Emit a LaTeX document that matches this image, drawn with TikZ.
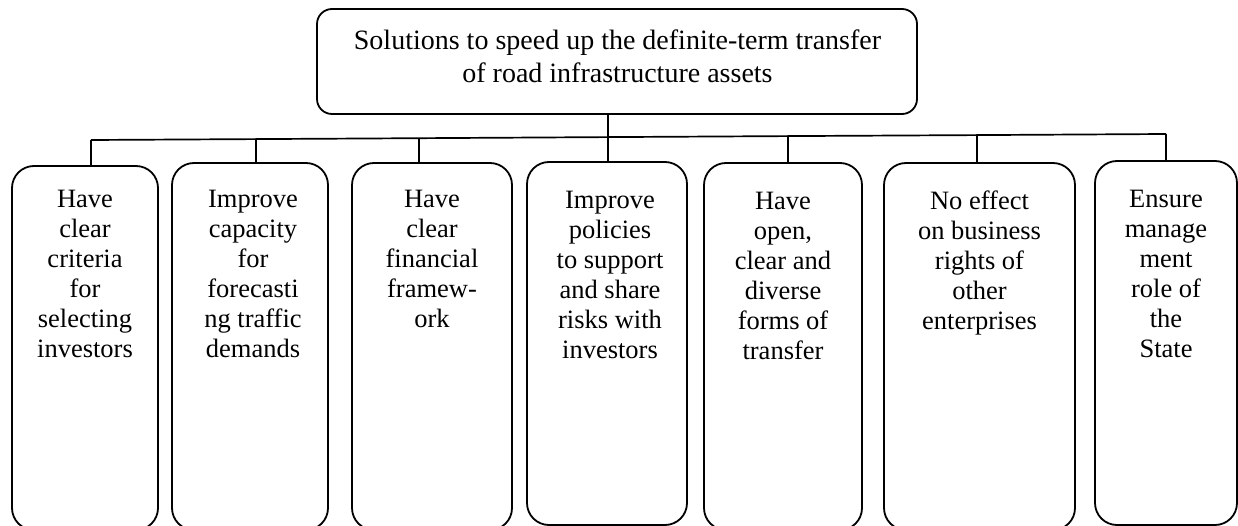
\documentclass[tikz,border=0pt]{standalone}
\usepackage{fontspec}
\setmainfont{Liberation Serif}
\begin{document}
\begin{tikzpicture}[x=1pt,y=-1pt,
  boxshape/.style={draw, line width=1.8pt, rounded corners=22pt, inner sep=0pt},
  topshape/.style={draw, line width=1.8pt, rounded corners=15pt, inner sep=0pt},
  boxtext/.style={align=center, anchor=north, inner sep=0pt, font=\fontsize{26.5}{30}\selectfont},
  toptext/.style={align=center, anchor=north, inner sep=0pt, font=\fontsize{28}{33}\selectfont},
  link/.style={line width=1.7pt}]
\useasboundingbox (0,0) rectangle (1238,526);

% top box
\node[topshape, minimum width=600pt, minimum height=105pt] (top) at (617,61.5) {};
\node[toptext] (toptxt) at (617.5,25.9) {\strut Solutions to speed up the definite-term transfer\\of road infrastructure assets};

% lower boxes
\node[boxshape, minimum width=146pt, minimum height=364pt] (b1) at (85,348) {};
\node[boxshape, minimum width=156pt, minimum height=367pt] (b2) at (250,346.5) {};
\node[boxshape, minimum width=160pt, minimum height=367pt] (b3) at (432,346.5) {};
\node[boxshape, minimum width=160pt, minimum height=363pt] (b4) at (607,343.5) {};
\node[boxshape, minimum width=158pt, minimum height=367pt] (b5) at (783,346.5) {};
\node[boxshape, minimum width=191pt, minimum height=367pt] (b6) at (979.5,346.5) {};
\node[boxshape, minimum width=142pt, minimum height=364pt] (b7) at (1166,343) {};

% texts
\node[boxtext] (t1) at (85,186) {\strut Have\\clear\\criteria\\for\\selecting\\investors};
\node[boxtext] (t2) at (253,186) {\strut Improve\\capacity\\for\\forecasti\\ng traffic\\demands};
\node[boxtext] (t3) at (432,186) {\strut Have\\clear\\financial\\framew-\\ork};
\node[boxtext] (t4) at (610,187) {\strut Improve\\policies\\to support\\and share\\risks with\\investors};
\node[boxtext] (t5) at (783,188) {\strut Have\\open,\\clear and\\diverse\\forms of\\transfer};
\node[boxtext] (t6) at (979.5,188) {\strut No effect\\on business\\rights of\\other\\enterprises};
\node[boxtext] (t7) at (1166,186) {\strut Ensure\\manage\\ment\\role of\\the\\State};

% bus coordinates
\coordinate (c1) at (91,140);
\coordinate (c2) at (256,139.1);
\coordinate (c3) at (419,138.2);
\coordinate (c4) at (608,137.1);
\coordinate (c5) at (788,136.1);
\coordinate (c6) at (977,135.1);
\coordinate (c7) at (1166,134);

\draw[link] (c1) -- (c2) -- (c3) -- (c4) -- (c5) -- (c6) -- (c7);
\draw[link] (top.south -| c4) -- (c4 |- b4.north);
\foreach \i in {1,2,3,5,6,7} {
  \draw[link] (c\i) -- (c\i |- b\i.north);
}
\end{tikzpicture}
\end{document}
